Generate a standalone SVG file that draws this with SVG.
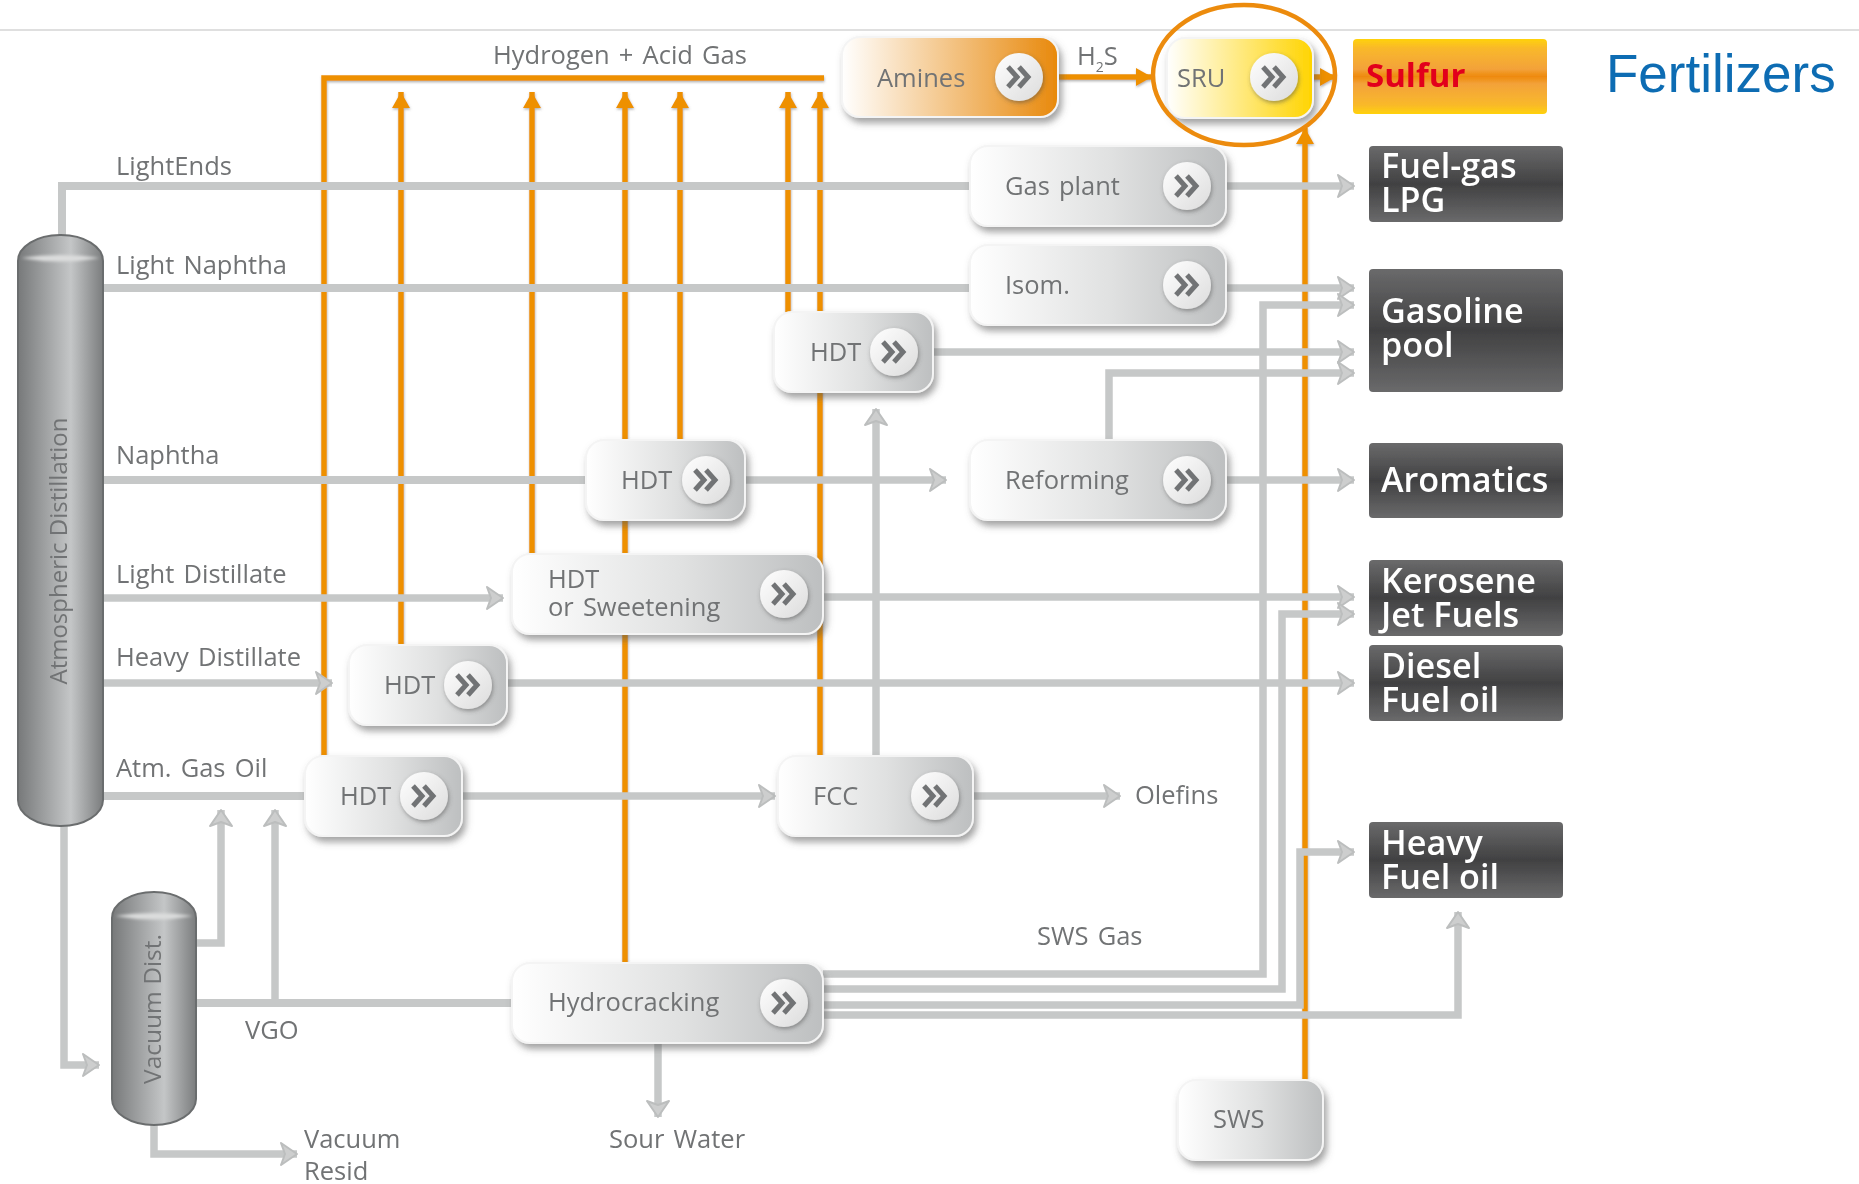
<svg xmlns="http://www.w3.org/2000/svg" width="1859" height="1184" viewBox="0 0 1859 1184">
<style>
text{font-family:"Open Sans","Noto Sans",sans-serif}
.lbl{font-size:25.5px;fill:#717374;word-spacing:2.5px}
.big{font-size:34.2px;font-weight:600;fill:#fff}
.g{fill:none;stroke:#c6c8c8;stroke-width:8}
.ga{fill:none;stroke:#c6c8c8;stroke-width:7.5;marker-end:url(#ag)}
.o{fill:none;stroke:#ee9000;stroke-width:5.5}
.oa{fill:none;stroke:#ee9000;stroke-width:5.5;marker-end:url(#ao)}
.n{fill:url(#ng);stroke:#f4f4f4;stroke-width:2;filter:url(#sh)}
.d{fill:url(#dk)}
.chev{fill:none;stroke:#717374;stroke-width:5}
.col{fill:url(#col);stroke:#6b6d6e;stroke-width:2}
.band{fill:#dcdddd;filter:url(#bb)}
</style>
<defs>
<linearGradient id="ng"><stop offset="0" stop-color="#fff"/><stop offset=".55" stop-color="#e0e1e1"/><stop offset="1" stop-color="#bdbfc0"/></linearGradient>
<linearGradient id="am"><stop offset="0" stop-color="#fff"/><stop offset="1" stop-color="#e8890c"/></linearGradient>
<linearGradient id="su"><stop offset="0" stop-color="#fff"/><stop offset="1" stop-color="#ffd400"/></linearGradient>
<linearGradient id="dk" x2="0" y2="1"><stop offset="0" stop-color="#6a6a6b"/><stop offset=".5" stop-color="#414142"/><stop offset="1" stop-color="#6a6a6b"/></linearGradient>
<linearGradient id="sf" x2="0" y2="1"><stop offset="0" stop-color="#ffd20a"/><stop offset=".12" stop-color="#f9b92a"/><stop offset=".4" stop-color="#f3a23a"/><stop offset=".5" stop-color="#ee8a0c"/><stop offset=".6" stop-color="#f3a23a"/><stop offset=".88" stop-color="#f9b92a"/><stop offset="1" stop-color="#ffd20a"/></linearGradient>
<linearGradient id="col"><stop offset="0" stop-color="#77797a"/><stop offset=".62" stop-color="#c4c6c7"/><stop offset="1" stop-color="#7b7d7e"/></linearGradient>
<linearGradient id="btn" x2="1" y2="1"><stop offset="0" stop-color="#fff"/><stop offset="1" stop-color="#dcdcdc"/></linearGradient>
<filter id="sh" x="-15%" y="-20%" width="130%" height="145%"><feDropShadow dx="3" dy="5" stdDeviation="3.5" flood-color="#555" flood-opacity=".55"/></filter>
<filter id="bs" x="-30%" y="-30%" width="170%" height="170%"><feDropShadow dx="1" dy="2" stdDeviation="2" flood-color="#444" flood-opacity=".5"/></filter>
<filter id="bb" x="-10%" y="-60%" width="120%" height="220%"><feGaussianBlur stdDeviation="1.5"/></filter>
<filter id="os" filterUnits="userSpaceOnUse" x="0" y="0" width="1859" height="1184"><feDropShadow dx="0.5" dy="1.5" stdDeviation="1" flood-color="#666" flood-opacity=".5"/></filter>
<filter id="soft" filterUnits="userSpaceOnUse" x="0" y="0" width="1859" height="1184"><feGaussianBlur stdDeviation=".65"/></filter>
<marker id="ag" markerUnits="userSpaceOnUse" markerWidth="28" markerHeight="30" refX="23" refY="15" orient="auto"><path d="M7 4L23 15L7 26L11 15Z" fill="#cdcece" stroke="#bcbebe" stroke-width="2" stroke-linejoin="round"/></marker>
<marker id="ao" markerUnits="userSpaceOnUse" markerWidth="22" markerHeight="24" refX="17" refY="12" orient="auto"><path d="M1 3L17 12L1 21Z" fill="#ee9000"/></marker>
<g id="bt"><circle r="24" fill="url(#btn)" filter="url(#bs)"/><path class="chev" d="M-11-10L-2 0L-11 10M0-10L9 0L0 10"/></g>
</defs>
<rect width="1859" height="1184" fill="#fff"/>
<g filter="url(#soft)">
<path d="M0 30H1859" stroke="#d4d4d4" stroke-width="1.5"/>
<g id="connectors">
<g filter="url(#os)">
<path class="o" d="M324 756V78H824"/>
<path class="oa" d="M401 645V92"/><path class="oa" d="M532 554V92"/><path class="oa" d="M625 963V92"/><path class="oa" d="M680 440V92"/><path class="oa" d="M788 312V92"/><path class="oa" d="M820 756V92"/>
<path class="oa" d="M1305 1080V128"/><path class="oa" d="M1058 77H1152"/><path class="oa" d="M1310 77H1336"/>
</g>
<path class="g" d="M62 235V186H970"/><path class="ga" d="M1226 186H1354"/>
<path class="g" d="M103 288H970"/><path class="ga" d="M1226 288H1354"/>
<path class="ga" d="M933 352H1354"/><path class="ga" d="M876 756V409"/>
<path class="ga" d="M1109 440V373H1354"/>
<path class="g" d="M103 480H586"/><path class="ga" d="M745 480H946"/><path class="ga" d="M1226 480H1354"/>
<path class="ga" d="M103 598H503"/><path class="ga" d="M823 597H1354"/>
<path class="ga" d="M103 683H332"/><path class="ga" d="M507 683H1354"/>
<path class="g" d="M103 796H305"/><path class="ga" d="M462 796H775"/><path class="ga" d="M973 796H1120"/>
<path class="ga" d="M823 974H1263V305H1354"/>
<path class="ga" d="M823 989H1282V614H1354"/>
<path class="ga" d="M823 1005H1300V852H1354"/>
<path class="ga" d="M823 1015H1458V912"/>
<path class="ga" d="M64 826V1065H99"/>
<path class="ga" d="M196 943H221V810"/>
<path class="g" d="M196 1003H512"/><path class="ga" d="M275 1003V810"/>
<path class="ga" d="M154 1125V1154H297"/>
<path class="ga" d="M658 1043V1117"/>
</g>
<g id="atm"><rect class="col" x="18" y="235" width="85" height="591" rx="42" ry="26"/><path class="band" d="M21 258Q60 252 100 258Q60 265 21 258Z"/><text class="lbl" transform="translate(67 551) rotate(-90)" text-anchor="middle" style="font-size:24px;word-spacing:0">Atmospheric Distillation</text></g>
<g id="vac"><rect class="col" x="112" y="892" width="84" height="233" rx="42" ry="26"/><path class="band" d="M115 916Q154 910 193 916Q154 923 115 916Z"/><text class="lbl" transform="translate(161 1009) rotate(-90)" text-anchor="middle" style="font-size:24.5px;word-spacing:0">Vacuum Dist.</text></g>
<g id="amines"><rect class="n" x="842" y="37" width="216" height="80" rx="18" style="fill:url(#am)"/><text class="lbl" x="877" y="87">Amines</text><use href="#bt" x="1019" y="77"/></g>
<g id="sru"><rect class="n" x="1167" y="38" width="146" height="80" rx="18" style="fill:url(#su)"/><text class="lbl" x="1177" y="87">SRU</text><use href="#bt" x="1274" y="77"/></g>
<g id="sulfur"><rect x="1353" y="39" width="194" height="75" rx="4" fill="url(#sf)"/><text x="1366" y="87" style="font-size:33px;font-weight:700;fill:#e2001a">Sulfur</text></g>
<text x="1606" y="92" style="font-family:'Liberation Sans',Arial,sans-serif;font-size:53px;fill:#0b6cb3">Fertilizers</text>
<ellipse id="circle" cx="1244" cy="75" rx="91" ry="70" fill="none" stroke="#ec8b0c" stroke-width="4.5"/>
<g id="gasplant"><rect class="n" x="970" y="146" width="256" height="80" rx="18"/><text class="lbl" x="1005" y="195">Gas plant</text><use href="#bt" x="1187" y="186"/></g>
<g id="isom"><rect class="n" x="970" y="245" width="256" height="80" rx="18"/><text class="lbl" x="1005" y="294">Isom.</text><use href="#bt" x="1187" y="285"/></g>
<g id="hdt1"><rect class="n" x="774" y="312" width="159" height="80" rx="18"/><text class="lbl" x="810" y="361">HDT</text><use href="#bt" x="894" y="352"/></g>
<g id="hdt2"><rect class="n" x="586" y="440" width="159" height="80" rx="18"/><text class="lbl" x="621" y="489">HDT</text><use href="#bt" x="706" y="480"/></g>
<g id="reforming"><rect class="n" x="970" y="440" width="256" height="80" rx="18"/><text class="lbl" x="1005" y="489">Reforming</text><use href="#bt" x="1187" y="480"/></g>
<g id="sweet"><rect class="n" x="512" y="554" width="311" height="80" rx="18"/><text class="lbl" x="548" y="588">HDT</text><text class="lbl" x="548" y="616">or Sweetening</text><use href="#bt" x="784" y="594"/></g>
<g id="hdt3"><rect class="n" x="349" y="645" width="158" height="80" rx="18"/><text class="lbl" x="384" y="694">HDT</text><use href="#bt" x="468" y="685"/></g>
<g id="hdt4"><rect class="n" x="305" y="756" width="157" height="80" rx="18"/><text class="lbl" x="340" y="805">HDT</text><use href="#bt" x="424" y="796"/></g>
<g id="fcc"><rect class="n" x="778" y="756" width="195" height="80" rx="18"/><text class="lbl" x="813" y="805">FCC</text><use href="#bt" x="935" y="796"/></g>
<g id="hc"><rect class="n" x="512" y="963" width="311" height="80" rx="18"/><text class="lbl" x="548" y="1011">Hydrocracking</text><use href="#bt" x="784" y="1003"/></g>
<g id="sws"><rect class="n" x="1178" y="1080" width="145" height="80" rx="18"/><text class="lbl" x="1213" y="1128">SWS</text></g>
<g id="p1"><rect class="d" x="1369" y="146" width="194" height="76" rx="4"/><text class="big" x="1381" y="177.500">Fuel-gas</text><text class="big" x="1381" y="211.500">LPG</text></g>
<g id="p2"><rect class="d" x="1369" y="269" width="194" height="123" rx="4"/><text class="big" x="1381" y="323">Gasoline</text><text class="big" x="1381" y="357">pool</text></g>
<g id="p3"><rect class="d" x="1369" y="443" width="194" height="75" rx="4"/><text class="big" x="1381" y="492">Aromatics</text></g>
<g id="p4"><rect class="d" x="1369" y="560" width="194" height="76" rx="4"/><text class="big" x="1381" y="593">Kerosene</text><text class="big" x="1381" y="627">Jet Fuels</text></g>
<g id="p5"><rect class="d" x="1369" y="645" width="194" height="76" rx="4"/><text class="big" x="1381" y="678">Diesel</text><text class="big" x="1381" y="712">Fuel oil</text></g>
<g id="p6"><rect class="d" x="1369" y="822" width="194" height="76" rx="4"/><text class="big" x="1381" y="855">Heavy</text><text class="big" x="1381" y="889">Fuel oil</text></g>
<g id="labels">
<text class="lbl" x="493" y="64">Hydrogen + Acid Gas</text>
<text class="lbl" x="1077" y="65">H<tspan dy="7" font-size="14">2</tspan><tspan dy="-7">S</tspan></text>
<text class="lbl" x="116" y="175">LightEnds</text>
<text class="lbl" x="116" y="274">Light Naphtha</text>
<text class="lbl" x="116" y="464">Naphtha</text>
<text class="lbl" x="116" y="583">Light Distillate</text>
<text class="lbl" x="116" y="666">Heavy Distillate</text>
<text class="lbl" x="116" y="777">Atm. Gas Oil</text>
<text class="lbl" x="245" y="1039">VGO</text>
<text class="lbl" x="304" y="1148">Vacuum</text>
<text class="lbl" x="304" y="1180">Resid</text>
<text class="lbl" x="609" y="1148">Sour Water</text>
<text class="lbl" x="1037" y="945">SWS Gas</text>
<text class="lbl" x="1135" y="804">Olefins</text>
</g>
</g>
</svg>
